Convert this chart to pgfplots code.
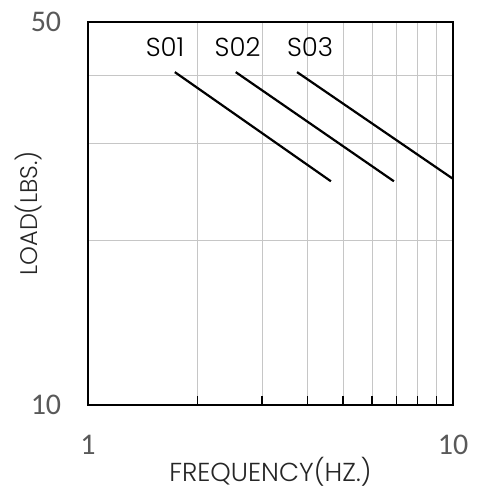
\documentclass[border=0pt]{standalone}
\usepackage{pgfplots}
\pgfplotsset{compat=1.18}
\usepackage{fontspec}
\setmainfont{Poppins}[UprightFont=* Light]
\newfontfamily\numfont{Carlito}
\definecolor{tickgray}{HTML}{595959}
\definecolor{titlegray}{HTML}{262626}
\begin{document}
\begin{tikzpicture}
\begin{axis}[
  scale only axis, width=365pt, height=383pt,
  xmode=log, ymode=log,
  xmin=1, xmax=10, ymin=10, ymax=50,
  xtick={1,10}, xticklabels={1,10},
  ytick={10,50}, yticklabels={10,50},
  minor xtick={2,3,4,5,6,7,8,9},
  minor ytick={20,30,40},
  xminorgrids, yminorgrids,
  minor grid style={gray!45, line width=0.9pt},
  axis line style={black, line width=1.8pt},
  tick align=inside, xtick pos=bottom, ytick pos=left,
  minor x tick style={black, line width=1.3pt},
  major tick length=0pt,
  minor tick length=9pt,
  y tick style={draw=none},
  minor y tick style={draw=none},
  tick label style={font=\numfont\fontsize{30}{32}\selectfont, text=tickgray},
  xticklabel style={anchor=center, yshift=-40pt},
  yticklabel style={anchor=center, xshift=-42pt},
  xlabel={FREQUENCY(HZ.)}, ylabel={LOAD(LBS.)},
  label style={text=titlegray},
  xlabel style={font=\fontsize{26}{28}\selectfont, at={(axis description cs:0.5,-0.175)}, anchor=center},
  ylabel style={font=\fontsize{24}{26}\selectfont, at={(axis description cs:-0.164,0.5)}, anchor=center},
  clip=false,
]
\path (rel axis cs:-0.241,-0.2245) rectangle (rel axis cs:1.096,1.0574);
\addplot[black, line width=2.2pt] coordinates {(1.73,40.5) (4.63,25.6)};
\addplot[black, line width=2.2pt] coordinates {(2.54,40.5) (6.89,25.6)};
\addplot[black, line width=2.2pt] coordinates {(3.74,40.5) (9.97,25.9)};
\node[font=\fontsize{26}{28}\selectfont] at (axis cs:1.626,45.0) {S01};
\node[font=\fontsize{26}{28}\selectfont] at (axis cs:2.57,45.0) {S02};
\node[font=\fontsize{26}{28}\selectfont] at (axis cs:4.06,45.0) {S03};
\end{axis}
\end{tikzpicture}
\end{document}
